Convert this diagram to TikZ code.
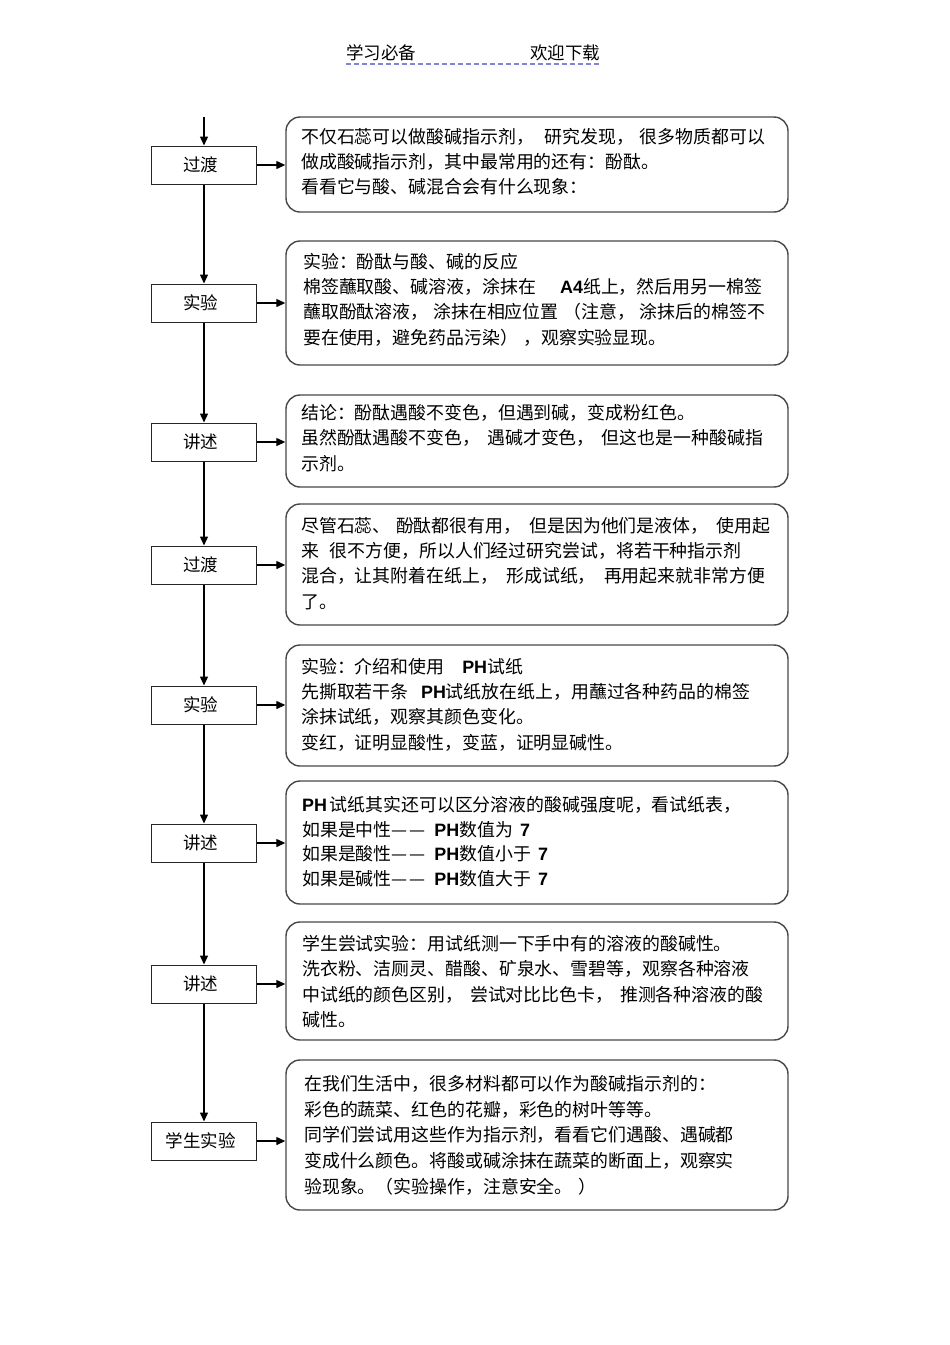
\documentclass[tikz,border=0pt]{standalone}
\usepackage{fontspec}
\setmainfont{Noto Sans CJK SC}
\newfontfamily\latf{Liberation Sans}
\usetikzlibrary{arrows.meta}
\newcommand\bL[1]{{\latf\bfseries #1}}
\newcommand\lab[1]{\mbox{#1}\kern7pt\relax}
\begin{document}
\begin{tikzpicture}[x=1pt,y=-1pt,
  lbox/.style={draw=black!85,line width=1pt,minimum width=105pt,minimum height=38pt,inner sep=0pt,font=\fontsize{17.5}{20}\selectfont},
  rbox/.style={draw=black!72,line width=1.4pt,rounded corners=14pt,minimum width=502pt,inner sep=0pt},
  txt/.style={anchor=north west,align=left,inner sep=0pt,font=\fontsize{17.9}{25.3}\selectfont},
  hdr/.style={inner sep=0pt,font=\fontsize{17.5}{20}\selectfont},
  arr/.style={line width=1.3pt,-{Triangle[length=9pt,width=8pt]}},
]
\fill[white] (0,0) rectangle (950,1345);
\useasboundingbox (0,0) rectangle (950,1345);

% header
\node[hdr] (h1) at (381,53) {学习必备};
\node[hdr] (h2) at (565,53) {欢迎下载};
\draw[dash pattern=on 5pt off 3pt, draw={rgb,255:red,130;green,130;blue,220}, line width=1.3pt] (h1.west |- 0,64) -- (h2.east |- 0,64);

% left boxes
\node[lbox] (l1) at (204,165) {\lab{过渡}};
\node[lbox] (l2) at (204,303) {\lab{实验}};
\node[lbox] (l3) at (204,442) {\lab{讲述}};
\node[lbox] (l4) at (204,565) {\lab{过渡}};
\node[lbox] (l5) at (204,705) {\lab{实验}};
\node[lbox] (l6) at (204,843) {\lab{讲述}};
\node[lbox] (l7) at (204,984) {\lab{讲述}};
\node[lbox] (l8) at (204,1141) {\lab{学生实验}};

% right boxes
\node[rbox,minimum height=95pt]  (r1) at (537,164.5) {};
\node[rbox,minimum height=124pt] (r2) at (537,303) {};
\node[rbox,minimum height=92pt]  (r3) at (537,441) {};
\node[rbox,minimum height=121pt] (r4) at (537,564.5) {};
\node[rbox,minimum height=121pt] (r5) at (537,705.5) {};
\node[rbox,minimum height=123pt] (r6) at (537,842.5) {};
\node[rbox,minimum height=118pt] (r7) at (537,981) {};
\node[rbox,minimum height=150pt] (r8) at (537,1135) {};

% texts
\node[txt] (t1) at (301,128) {不仅石蕊可以做酸碱指示剂，\hspace{0.6em}研究发现，\hspace{0.32em}很多物质都可以\\
做成酸碱指示剂，其中最常用的还有：酚酞。\\
看看它与酸、碱混合会有什么现象：};

\node[txt] (t2) at (303,253) {实验：酚酞与酸、碱的反应\\
棉签蘸取酸、碱溶液，涂抹在\hspace{1.36em}\bL{A4}纸上，然后用另一棉签\\
蘸取酚酞溶液，\hspace{0.27em}涂抹在相应位置\hspace{0.27em}（注意，\hspace{0.27em}涂抹后的棉签不\\
要在使用，避免药品污染）\hspace{0.3em}，观察实验显现。};

\node[txt] (t3) at (301,404) {结论：酚酞遇酸不变色，但遇到碱，变成粉红色。\\
虽然酚酞遇酸不变色，\hspace{0.4em}遇碱才变色，\hspace{0.4em}但这也是一种酸碱指\\
示剂。};

\node[txt] (t4) at (301,517) {尽管石蕊、\hspace{0.3em}酚酞都很有用，\hspace{0.45em}但是因为他们是液体，\hspace{0.45em}使用起\\
来\hspace{0.6em}很不方便，所以人们经过研究尝试，将若干种指示剂\\
混合，让其附着在纸上，\hspace{0.46em}形成试纸，\hspace{0.46em}再用起来就非常方便\\
了。};

\node[txt] (t5) at (301,658) {实验：介绍和使用\hspace{1em}\bL{PH}试纸\\
先撕取若干条\hspace{0.7em}\bL{PH}试纸放在纸上，用蘸过各种药品的棉签\\
涂抹试纸，观察其颜色变化。\\
变红，证明显酸性，变蓝，证明显碱性。};

\node[txt,font=\fontsize{17.9}{24.7}\selectfont] (t6) at (302,796) {\bL{PH}\hspace{0.15em}试纸其实还可以区分溶液的酸碱强度呢，看试纸表，\\
如果是中性—\hspace{0.1em}—\hspace{0.5em}\bL{PH}数值为\hspace{0.4em}\bL{7}\\
如果是酸性—\hspace{0.1em}—\hspace{0.5em}\bL{PH}数值小于\hspace{0.4em}\bL{7}\\
如果是碱性—\hspace{0.1em}—\hspace{0.5em}\bL{PH}数值大于\hspace{0.4em}\bL{7}};

\node[txt] (t7) at (302,935) {学生尝试实验：用试纸测一下手中有的溶液的酸碱性。\\
洗衣粉、洁厕灵、醋酸、矿泉水、雪碧等，观察各种溶液\\
中试纸的颜色区别，\hspace{0.38em}尝试对比比色卡，\hspace{0.38em}推测各种溶液的酸\\
碱性。};

\node[txt,font=\fontsize{17.9}{25.7}\selectfont] (t8) at (304,1075) {在我们生活中，很多材料都可以作为酸碱指示剂的：\\
彩色的蔬菜、红色的花瓣，彩色的树叶等等。\\
同学们尝试用这些作为指示剂，看看它们遇酸、遇碱都\\
变成什么颜色。将酸或碱涂抹在蔬菜的断面上，观察实\\
验现象。（实验操作，注意安全。\hspace{0.3em}）};

% vertical connectors
\coordinate (start) at (204,117);
\draw[arr] (start) -- (l1.north);
\draw[arr] (l1.south) -- (l2.north);
\draw[arr] (l2.south) -- (l3.north);
\draw[arr] (l3.south) -- (l4.north);
\draw[arr] (l4.south) -- (l5.north);
\draw[arr] (l5.south) -- (l6.north);
\draw[arr] (l6.south) -- (l7.north);
\draw[arr] (l7.south) -- (l8.north);

% horizontal connectors
\draw[arr] (l1.east) -- (l1.east -| r1.west);
\draw[arr] (l2.east) -- (l2.east -| r2.west);
\draw[arr] (l3.east) -- (l3.east -| r3.west);
\draw[arr] (l4.east) -- (l4.east -| r4.west);
\draw[arr] (l5.east) -- (l5.east -| r5.west);
\draw[arr] (l6.east) -- (l6.east -| r6.west);
\draw[arr] (l7.east) -- (l7.east -| r7.west);
\draw[arr] (l8.east) -- (l8.east -| r8.west);
\end{tikzpicture}
\end{document}
